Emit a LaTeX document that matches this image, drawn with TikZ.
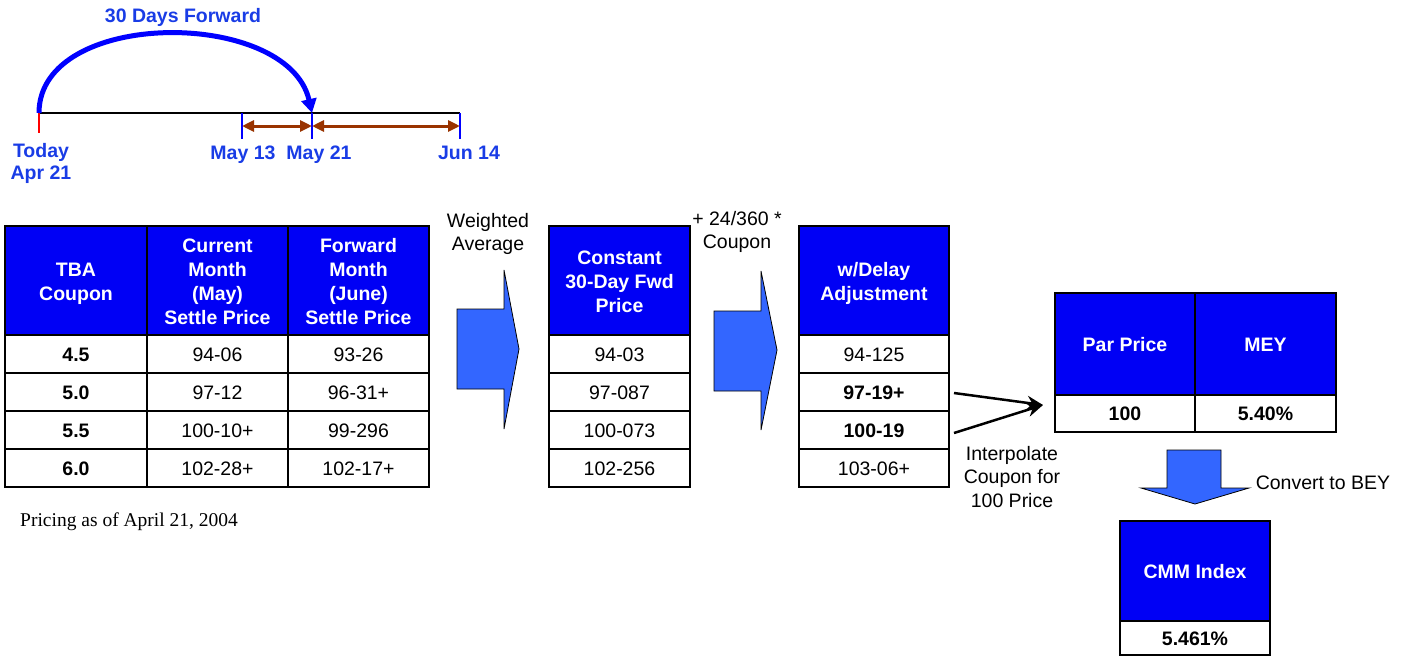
\documentclass[tikz,border=0pt]{standalone}
\usepackage{fontspec}
\setmainfont{Liberation Sans}
\newfontfamily\serifp{Liberation Serif}
\usetikzlibrary{arrows.meta}
\definecolor{hblue}{RGB}{0,0,245}
\definecolor{ablue}{RGB}{51,102,255}
\definecolor{tblue}{RGB}{25,60,230}
\definecolor{brown}{RGB}{153,51,0}
\newcommand{\capstrut}{\rule[-5pt]{0pt}{24pt}}
\begin{document}
\begin{tikzpicture}[x=1pt,y=-1pt,
  every node/.style={font=\fontsize{19.5}{24}\selectfont,
    execute at begin node={\capstrut},execute at end node={\capstrut}},
  hdr/.style={draw=black,line width=2,fill=hblue,text=white,font=\fontsize{19.5}{24}\selectfont\bfseries,align=center,inner sep=0,minimum height=109},
  hdrtxt/.style={text=white,font=\fontsize{19.5}{24}\selectfont\bfseries,align=center,inner sep=0,yshift=-3.5},
  cell/.style={draw=black,line width=2,fill=white,inner sep=0,minimum height=38},
  bcell/.style={cell,font=\fontsize{19.5}{24}\selectfont\bfseries},
  lbl/.style={text=tblue,font=\fontsize{19.5}{22}\selectfont\bfseries,align=center,inner sep=0},
  note/.style={align=center,inner sep=0,font=\fontsize{19.5}{23.5}\selectfont},
  blockarrow/.style={fill=ablue,draw=black,line width=0.8},
  tick/.style={draw=blue,line width=1.5},
  dbl/.style={brown,line width=3,{Triangle[length=12pt,width=11pt]}-{Triangle[length=12pt,width=11pt]}},
  conn/.style={line width=2.5,-{Stealth[length=16pt,width=14pt]}}
]
\useasboundingbox (0,0) rectangle (1406,657);

% ---------- timeline ----------
\coordinate (tA) at (39,113);
\coordinate (tB) at (242,113);
\coordinate (tC) at (312,113);
\coordinate (tD) at (460,113);
\draw[line width=2,black] (tA) -- (tD);
\draw[red,line width=2] (tA) -- ++(0,20);
\draw[tick] (tB) -- ++(0,26);
\draw[tick] (tC) -- ++(0,26);
\draw[tick] (tD) -- ++(0,26);
\draw[dbl] ([yshift=-13]tB) -- ([yshift=-13]tC);
\draw[dbl] ([yshift=-13]tC) -- ([yshift=-13]tD);
\draw[blue,line width=5,-{Triangle[length=14pt,width=15pt]}] (tA) .. controls (39,8) and (288,8) .. (tC);
\node[lbl] (fwd) at (183,15) {30 Days Forward};
\node[lbl] (today) at (41,164) {Today\\Apr 21};
\node[lbl] (m13) at (243,152) {May 13};
\node[lbl] (m21) at (319,152) {May 21};
\node[lbl] (j14) at (469,152) {Jun 14};

% ---------- table 1 ----------
\node[hdr,minimum width=142,label={[hdrtxt]center:TBA\\Coupon}] (h1) at (76,280.5) {};
\node[hdr,minimum width=141,label={[hdrtxt]center:Current\\Month\\(May)\\Settle Price}] (h2) at (217.5,280.5) {};
\node[hdr,minimum width=141,label={[hdrtxt]center:Forward\\Month\\(June)\\Settle Price}] (h3) at (358.5,280.5) {};
\node[bcell,minimum width=142] (a1) at (76,354) {4.5};
\node[bcell,minimum width=142] (a2) at (76,392) {5.0};
\node[bcell,minimum width=142] (a3) at (76,430) {5.5};
\node[bcell,minimum width=142] (a4) at (76,468) {6.0};
\node[cell,minimum width=141] (b1) at (217.5,354) {94-06};
\node[cell,minimum width=141] (b2) at (217.5,392) {97-12};
\node[cell,minimum width=141] (b3) at (217.5,430) {100-10+};
\node[cell,minimum width=141] (b4) at (217.5,468) {102-28+};
\node[cell,minimum width=141] (c1) at (358.5,354) {93-26};
\node[cell,minimum width=141] (c2) at (358.5,392) {96-31+};
\node[cell,minimum width=141] (c3) at (358.5,430) {99-296};
\node[cell,minimum width=141] (c4) at (358.5,468) {102-17+};
\node[anchor=west,inner sep=0,font=\serifp\fontsize{19.5}{24}\selectfont] (pricing) at (20,519) {Pricing as of April 21, 2004};

% ---------- arrow 1 ----------
\node[note] (wavg) at (488,234.5) {Weighted\\Average};
\draw[blockarrow] (457,309) -- (504,309) -- (504,270) -- (519,349) -- (504,429) -- (504,389) -- (457,389) -- cycle;

% ---------- table 2 ----------
\node[hdr,minimum width=141,label={[hdrtxt]center:Constant\\30-Day Fwd\\Price}] (h4) at (619.5,280.5) {};
\node[cell,minimum width=141] (d1) at (619.5,354) {94-03};
\node[cell,minimum width=141] (d2) at (619.5,392) {97-087};
\node[cell,minimum width=141] (d3) at (619.5,430) {100-073};
\node[cell,minimum width=141] (d4) at (619.5,468) {102-256};

% ---------- arrow 2 ----------
\node[note] (cpn) at (737,232.5) {+ 24/360 *\\Coupon};
\draw[blockarrow] (714,311) -- (761,311) -- (761,271) -- (777,350) -- (761,430) -- (761,391) -- (714,391) -- cycle;

% ---------- table 3 ----------
\node[hdr,minimum width=150,label={[hdrtxt]center:w/Delay\\Adjustment}] (h5) at (874,280.5) {};
\node[cell,minimum width=150] (e1) at (874,354) {94-125};
\node[bcell,minimum width=150] (e2) at (874,392) {97-19+};
\node[bcell,minimum width=150] (e3) at (874,430) {100-19};
\node[cell,minimum width=150] (e4) at (874,468) {103-06+};

% ---------- par table ----------
\node[hdr,minimum width=140,minimum height=103] (h6) at (1125,344) {Par Price};
\node[hdr,minimum width=141,minimum height=103] (h7) at (1265.5,344) {MEY};
\node[bcell,minimum width=140,minimum height=37] (f1) at (1125,413.5) {100};
\node[bcell,minimum width=141,minimum height=37] (g1) at (1265.5,413.5) {5.40\%};

\coordinate (conv) at (1043,405);
\draw[conn] ([xshift=4,yshift=-1]e2.east) -- (conv);
\draw[conn] ([xshift=4,yshift=-3]e3.east) -- (conv);
\node[note] (interp) at (1012,479) {Interpolate\\Coupon for\\100 Price};

% ---------- down arrow ----------
\draw[blockarrow] (1167,450) -- (1221,450) -- (1221,488) -- (1249,488) -- (1195,504) -- (1141,488) -- (1167,488) -- cycle;
\node[note] (bey) at (1323,482) {Convert to BEY};

% ---------- CMM ----------
\node[hdr,minimum width=150,minimum height=100] (h8) at (1195,571) {CMM Index};
\node[bcell,minimum width=150,minimum height=34] (k1) at (1195,638) {5.461\%};
\end{tikzpicture}
\end{document}
